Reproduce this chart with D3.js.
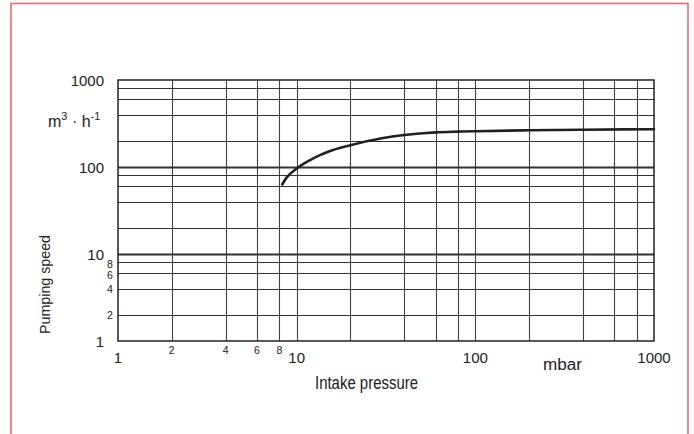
<!DOCTYPE html>
<html>
<head>
<meta charset="utf-8">
<script src="https://cdn.jsdelivr.net/npm/d3@7"></script>
<style>
  html, body { margin: 0; padding: 0; background: #fff; }
  svg { display: block; }
</style>
</head>
<body>
<svg id="chart" width="694" height="434"></svg>
<script>
// ---- data ----
const pressure = [8.3, 8.8, 10, 11.9, 13.5, 15, 20, 30, 40, 60, 80, 100, 200, 400, 1000];
const speed    = [63, 76, 96, 120, 137, 150, 178, 214, 233, 250, 255, 258, 264, 268, 272];
const gridValues = [2, 4, 6, 8, 10, 20, 40, 60, 80, 100, 200, 400, 600, 800];
const majorTicks = [1, 10, 100, 1000];
const minorTickLabels = [2, 4, 6, 8];
const xTitle = "Intake pressure";
const xUnit = "mbar";
const yTitle = "Pumping speed";

// ---- layout ----
const svg = d3.select("#chart");
const x = d3.scaleLog().domain([1, 1000]).range([118, 654]);
const y = d3.scaleLog().domain([1, 1000]).range([341, 80]);

// red frame
svg.append("rect")
  .attr("x", 11).attr("y", 3.5).attr("width", 677).attr("height", 440)
  .attr("fill", "none").attr("stroke", "#f26b6b").attr("stroke-width", 1.6);

const g = svg.append("g");

// vertical grid
g.selectAll("line.v").data(gridValues).join("line")
  .attr("class", "v")
  .attr("x1", d => Math.round(x(d)) + 0.5).attr("x2", d => Math.round(x(d)) + 0.5)
  .attr("y1", y(1000)).attr("y2", y(1))
  .attr("stroke", "#444").attr("stroke-width", 1.1);

// horizontal grid
g.selectAll("line.h").data(gridValues).join("line")
  .attr("class", "h")
  .attr("x1", x(1)).attr("x2", x(1000))
  .attr("y1", d => Math.round(y(d)) + 0.5).attr("y2", d => Math.round(y(d)) + 0.5)
  .attr("stroke", "#333")
  .attr("stroke-width", d => (d === 10 || d === 100) ? 2 : 1.1);

// frame of plot
g.append("rect")
  .attr("x", x(1)).attr("y", y(1000))
  .attr("width", x(1000) - x(1)).attr("height", y(1) - y(1000))
  .attr("fill", "none").attr("stroke", "#222").attr("stroke-width", 1.5);

// curve
const line = d3.line()
  .x((d, i) => x(pressure[i]))
  .y((d, i) => y(speed[i]))
  .curve(d3.curveMonotoneX);
g.append("path")
  .datum(speed)
  .attr("d", line)
  .attr("fill", "none")
  .attr("stroke", "#231f20")
  .attr("stroke-width", 2.6)
  .attr("stroke-linecap", "round");

const font = "Liberation Sans, Arial, Helvetica, sans-serif";
const narrow = "'Liberation Sans Narrow', 'Arial Narrow', Liberation Sans, sans-serif";

// y major labels
g.selectAll("text.ym").data(majorTicks).join("text")
  .attr("x", 104).attr("y", d => y(d) + 6)
  .attr("text-anchor", "end")
  .attr("font-family", font).attr("font-size", 15).attr("fill", "#222")
  .text(d => d);

// y minor labels
g.selectAll("text.yn").data(minorTickLabels).join("text")
  .attr("x", 110).attr("y", d => y(d) + (d >= 6 ? 6 : 4))
  .attr("text-anchor", "middle")
  .attr("font-family", font).attr("font-size", 10.5).attr("fill", "#222")
  .text(d => d);

// x major labels
g.selectAll("text.xm").data(majorTicks).join("text")
  .attr("x", d => x(d)).attr("y", 363)
  .attr("text-anchor", "middle")
  .attr("font-family", font).attr("font-size", 15).attr("fill", "#222")
  .text(d => d);

// x minor labels
g.selectAll("text.xn").data(minorTickLabels).join("text")
  .attr("x", d => x(d)).attr("y", 354)
  .attr("text-anchor", "middle")
  .attr("font-family", font).attr("font-size", 10.5).attr("fill", "#222")
  .text(d => d);

// unit mbar
g.append("text")
  .attr("x", 543).attr("y", 370)
  .attr("font-family", narrow).attr("font-size", 16).attr("fill", "#222")
  .attr("textLength", 39).attr("lengthAdjust", "spacingAndGlyphs")
  .text(xUnit);

// x title
g.append("text")
  .attr("x", 315).attr("y", 389)
  .attr("font-family", narrow).attr("font-size", 17.5).attr("fill", "#222")
  .attr("textLength", 103).attr("lengthAdjust", "spacingAndGlyphs")
  .text(xTitle);

// y unit m3·h-1
const unit = g.append("text")
  .attr("x", 48).attr("y", 127)
  .attr("font-family", narrow).attr("font-size", 16).attr("fill", "#222");
unit.append("tspan").text("m");
unit.append("tspan").attr("dy", -7).attr("font-size", 11).text("3");
unit.append("tspan").attr("dy", 7).text(" · h");
unit.append("tspan").attr("dy", -7).attr("font-size", 11).text("-1");

// y title
g.append("text")
  .attr("transform", "translate(50,334) rotate(-90)")
  .attr("font-family", font).attr("font-size", 14).attr("fill", "#222")
  .attr("textLength", 99).attr("lengthAdjust", "spacingAndGlyphs")
  .text(yTitle);
</script>
</body>
</html>
